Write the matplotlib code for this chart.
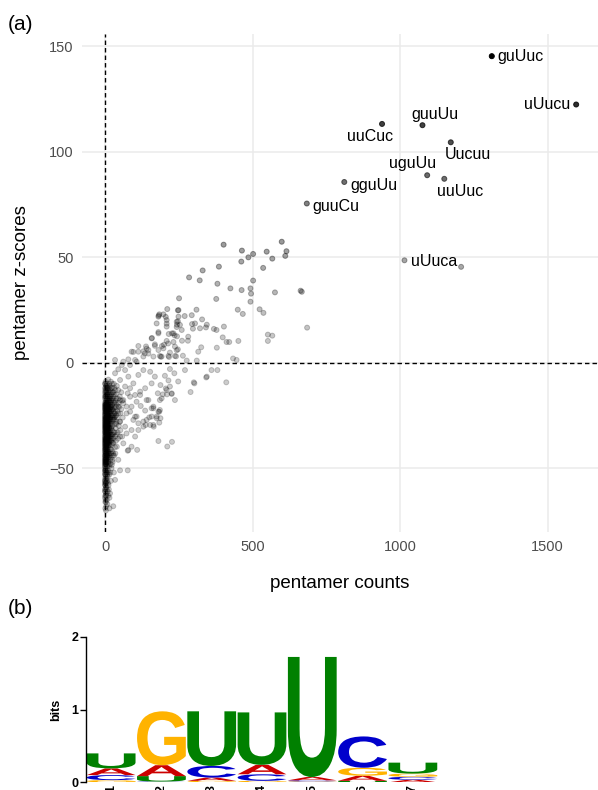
import numpy as np
import matplotlib
matplotlib.use("Agg")
import matplotlib.pyplot as plt
from matplotlib.textpath import TextPath
from matplotlib.patches import PathPatch
from matplotlib.font_manager import FontProperties
from matplotlib.transforms import Affine2D

plt.rcParams['font.family'] = ['Liberation Sans', 'DejaVu Sans']

# ---------------- data: panel (a) ----------------
label_names = ["guUuc", "uUucu", "guuUu", "uuCuc", "Uucuu", "uguUu", "uuUuc", "gguUu", "guuCu", "uUuca"]
label_x = [1311, 1597, 1076, 939, 1172, 1092, 1150, 811, 684, 1015]
label_y = [145.2, 122.3, 112.5, 113.1, 104.4, 88.8, 87.1, 85.6, 75.4, 48.5]

extra_pts = [(1207, 45.4)]

upper_pts = [
    (402, 55.9), (464, 53.1), (502, 51.5), (486, 49.9), (462, 47.9), (548, 52.6), (599, 57.3), (615, 52.8),
    (611, 50.6), (567, 49.3), (536, 44.9), (386, 45.5), (331, 43.7), (285, 40.4), (321, 39), (502, 38.9),
    (381, 37.4), (425, 35.2), (463, 34.4), (493, 35.2), (495, 32.7), (576, 33.3), (663, 34.1), (251, 30.5),
    (377, 30.2), (493, 28.9), (211, 25.4), (247, 24.8), (310, 25.1), (450, 25.1), (524, 25.3), (537, 23.6),
    (467, 23.1), (182, 22.3), (184, 22.9), (206, 21.7), (270, 22.1), (247, 19.6), (329, 20.5), (209, 18.5),
    (295, 18.3), (345, 18), (342, 16.7), (298, 16.1), (243, 16.9), (244, 18), (369, 16), (403, 17.1),
    (216, 13.6), (227, 13.9), (236, 12.9), (244, 12.5), (181, 14.5), (159, 11.7), (399, 12), (412, 9.8),
    (421, 9.8), (452, 10.3), (552, 13.3), (567, 12.8), (552, 10.3), (685, 16.6), (113, 7.9), (139, 7.7),
    (169, 8), (200, 8.5), (193, 7.9), (247, 6.3), (261, 10.4), (281, 10.4), (326, 7.3), (316, 5.2),
    (379, 7.1), (96, 5.1), (130, 5.4), (147, 4.3), (189, 2.8), (217, 2.7), (241, 3), (434, 2), (446, 1.3),
    (243, 5.9), (311, 1), (277, 1), (264, 3.3), (220, 4.8), (186, 3.2), (169, 8.7), (209, 10.3), (232, 9.8),
    (181, 21.8), (198, 22.9), (209, 20.2), (249, 21.8), (243, 19.4), (249, 24.9), (294, 22.5), (175, 18.6),
    (209, 17.1), (232, 13.9), (254, 17.9), (305, 18.6), (322, 16.3), (378, 15.5), (260, 15.5), (181, 13.9),
    (214, 9.1), (158, 11.5), (141, 6.7), (113, 5.2), (130, 2.9), (102, 1.3), (90, 5.2), (135, 4.4),
    (147, 6), (164, 2.9), (192, 2.9), (215, 3.2), (237, 3.2), (34, 1.3), (62, 0.5), (79, 1.6), (107, 0.5),
    (181, 6), (198, 6.8), (237, 7.6), (282, 12.3), (667, 33.6),
]

fan_pts = [
    (85, -1.1), (381, -3.5), (345, -6.6), (248, -8.9), (301, -9.3), (343, -7), (361, -3.5), (411, -9.3),
    (290, -13.9), (271, -3.5), (235, -5), (220, -3), (203, -6.2), (215, -8.4), (303, -9.8),
    (188, -10.6), (206, -12.2), (226, -14.5), (237, -17.7), (179, -14.5), (192, -16.9), (147, -17.7),
    (164, -21.6), (181, -23.2), (188, -26.3), (165, -30.3), (138, -29.5), (150, -25.9), (136, -22.7),
    (121, -20.5), (107, -18.5), (102, -15.3), (119, -13.7), (136, -12.1), (158, -9.8), (169, -6.6),
    (153, -4.3), (130, -3.5), (113, -5.8), (96, -9.8), (85, -12.1), (79, -6.6), (68, -3.5), (57, -1.1),
    (45, -3.1), (34, -5), (51, -8.2), (68, -11.3), (77, -14.5), (62, -17.7), (45, -20.8), (90, -20.8),
    (73, -24), (102, -25.6), (113, -28.7), (90, -31.9), (68, -30.3), (51, -27.9), (34, -25.6), (23, -22.4),
    (141, -27.1), (158, -25.5), (175, -26.3), (184, -23.2), (153, -29.5), (130, -30.3), (107, -25.5),
    (96, -27.1), (85, -23.2), (73, -20.8), (62, -19.2), (51, -17.7), (85, -16.1), (119, -15.3),
    (141, -17.7), (164, -20.8), (186, -17.7), (209, -12.9), (220, -11.3), (211, -39.7), (181, -37.1),
    (227, -37.5), (79, -41.4), (90, -39.8), (62, -38.2), (51, -35), (73, -33.5), (102, -35), (113, -31.9),
    (40, -39.8), (28, -42.9), (45, -46), (23, -48.4), (34, -55.5), (17, -61.9), (51, -51), (77, -51),
    (164, -29.5), (184, -28.4), (175, -25.5), (186, -22.4), (158, -21.6), (226, -14.8), (210, -15),
    (196, -15), (77, -41.7), (109, -41.3), (130, -27.9),
]

core_pts = [
    (2, -9), (6, -10), (11, -8), (15, -11), (20, -9), (25, -12), (30, -10), (4, -13), (9, -14), (13, -12),
    (18, -14), (22, -15), (28, -14), (35, -13), (40, -11), (1, -15), (7, -12), (16, -16), (3, -11), (24, -10),
    (0, -16), (2, -18), (4, -17), (6, -19), (8, -16), (10, -18), (12, -20), (14, -17), (17, -19), (19, -21),
    (21, -18), (23, -20), (26, -17), (29, -19), (32, -21), (36, -18), (40, -20), (44, -17), (1, -21), (3, -23),
    (5, -22), (7, -24), (9, -21), (11, -23), (13, -25), (15, -22), (18, -24), (20, -23), (24, -25), (27, -22),
    (31, -24), (35, -23), (38, -25), (2, -20), (4, -24), (6, -21), (8, -23), (10, -25), (12, -22), (16, -20),
    (0, -19), (0, -23), (1, -25), (5, -18), (9, -19), (14, -23), (22, -21), (28, -25), (33, -19), (42, -23),
    (48, -21), (52, -24), (3, -16), (7, -17), (11, -16), (0, -17), (0, -21), (1, -24), (2, -22), (3, -19),
    (6, -25), (13, -18), (17, -22), (25, -20),
    (0, -26), (1, -28), (2, -27), (3, -29), (4, -26), (5, -30), (6, -28), (7, -27), (8, -31), (9, -29),
    (10, -26), (11, -32), (12, -30), (13, -28), (14, -33), (15, -27), (16, -31), (18, -29), (20, -34), (22, -28),
    (24, -32), (26, -30), (28, -27), (30, -33), (33, -29), (36, -31), (39, -28), (43, -33), (47, -30), (0, -30),
    (0, -33), (1, -31), (2, -34), (3, -32), (4, -35), (5, -33), (6, -31), (7, -34), (8, -27), (9, -33),
    (10, -35), (12, -34), (14, -29), (17, -35), (19, -26), (21, -31), (23, -35), (25, -27), (27, -34), (31, -26),
    (35, -35), (40, -34), (0, -27), (0, -29), (1, -33), (2, -30), (3, -26), (4, -31), (5, -28), (6, -34),
    (8, -29), (11, -28), (13, -31), (16, -26), (0, -35), (1, -26), (2, -29), (4, -33), (7, -30), (9, -26),
    (0, -36), (1, -38), (2, -37), (3, -40), (4, -36), (5, -39), (6, -42), (7, -37), (8, -41), (9, -38),
    (10, -43), (11, -36), (12, -40), (14, -38), (15, -44), (17, -41), (19, -37), (21, -43), (23, -39), (25, -42),
    (28, -38), (31, -44), (34, -40), (0, -40), (0, -42), (0, -44), (1, -41), (2, -43), (3, -45), (4, -42),
    (5, -44), (6, -38), (7, -45), (9, -44), (12, -43), (13, -37), (16, -39), (20, -45), (24, -36), (27, -44),
    (1, -36), (2, -39), (3, -37), (4, -39), (5, -36), (8, -36), (10, -39), (0, -38), (1, -44), (6, -40),
    (0, -46), (1, -48), (2, -47), (3, -50), (4, -46), (5, -52), (6, -49), (8, -47), (10, -51), (12, -48),
    (15, -53), (18, -46), (22, -50), (0, -50), (0, -53), (1, -51), (2, -54), (3, -47), (4, -55), (6, -46),
    (9, -54), (14, -49), (26, -47), (30, -52), (0, -48), (1, -46),
    (0, -56), (1, -58), (2, -60), (3, -57), (4, -62), (5, -59), (7, -56), (9, -61), (12, -58), (15, -64),
    (0, -61), (0, -64), (1, -66), (2, -63), (4, -68), (6, -65), (8, -67), (11, -63), (13, -60), (0, -58),
    (3, -70), (1, -69), (28, -68), (15, -69), (20, -56),
]

core_pts_dense = [
    (1, -10), (3, -12), (5, -14), (8, -11), (10, -13), (12, -15), (14, -10), (17, -13), (19, -16), (21, -12),
    (23, -17), (26, -14), (29, -16), (32, -12), (37, -15), (45, -13), (50, -16), (55, -14), (0, -12), (0, -14),
    (2, -16), (4, -19), (6, -15), (9, -17), (11, -19), (13, -14), (15, -18), (18, -17), (20, -19), (27, -18),
    (31, -15), (39, -17), (46, -19), (58, -18), (0, -10), (1, -13), (3, -14), (5, -11), (7, -15), (9, -12),
    (0, -20), (0, -22), (0, -24), (0, -25), (0, -28), (1, -20), (1, -22), (1, -27), (1, -29), (2, -21),
    (2, -23), (2, -26), (2, -28), (3, -20), (3, -22), (3, -24), (3, -27), (4, -20), (4, -21), (4, -23),
    (4, -28), (5, -20), (5, -24), (5, -26), (5, -29), (6, -20), (6, -23), (6, -26), (6, -29), (7, -21),
    (7, -22), (7, -25), (7, -28), (8, -20), (8, -24), (8, -26), (9, -22), (9, -25), (9, -28), (10, -21),
    (10, -24), (10, -29), (11, -20), (11, -25), (12, -24), (12, -27), (13, -21), (14, -26), (15, -24), (16, -23),
    (16, -28), (18, -21), (19, -27), (21, -25), (22, -29), (24, -22), (26, -26), (29, -23), (32, -27), (37, -21),
    (41, -26), (45, -24), (50, -28), (55, -22), (60, -26), (34, -24), (38, -29),
    (0, -31), (0, -32), (0, -34), (0, -37), (0, -39), (1, -30), (1, -32), (1, -35), (1, -37), (1, -39),
    (2, -31), (2, -33), (2, -36), (2, -38), (3, -30), (3, -31), (3, -34), (3, -36), (3, -38), (4, -30),
    (4, -32), (4, -34), (4, -37), (5, -31), (5, -32), (5, -35), (5, -37), (6, -30), (6, -33), (6, -36),
    (6, -39), (7, -31), (7, -33), (7, -36), (7, -39), (8, -30), (8, -33), (8, -35), (8, -38), (9, -31),
    (9, -35), (9, -37), (10, -30), (10, -33), (10, -37), (11, -34), (11, -38), (12, -32), (12, -36), (13, -34),
    (13, -39), (14, -31), (14, -35), (15, -33), (15, -37), (17, -32), (18, -36), (19, -34), (20, -31), (22, -37),
    (24, -34), (26, -38), (29, -36), (33, -33), (37, -37), (44, -36), (52, -32), (58, -35),
    (0, -41), (0, -43), (0, -45), (0, -47), (0, -49), (1, -40), (1, -42), (1, -45), (1, -47), (1, -49),
    (2, -41), (2, -44), (2, -46), (2, -48), (3, -41), (3, -43), (3, -46), (3, -48), (4, -40), (4, -43),
    (4, -45), (4, -48), (5, -41), (5, -43), (5, -47), (6, -44), (6, -47), (7, -41), (7, -43), (8, -44),
    (8, -49), (9, -42), (10, -45), (11, -42), (11, -47), (13, -45), (16, -43), (18, -48), (21, -41), (25, -46),
    (35, -43),
    (0, -51), (0, -52), (0, -55), (0, -57), (0, -60), (1, -53), (1, -56), (1, -61), (2, -51), (2, -57),
    (3, -53), (3, -59), (4, -51), (4, -57), (5, -55), (6, -52), (6, -60), (8, -53), (10, -57), (11, -52),
    (18, -52), (2, -65), (5, -63), (1, -63), (3, -66),
]

x_ticks = [0, 500, 1000, 1500]
y_ticks = [-50, 0, 50, 100, 150]

# ---------------- data: panel (b) logo ----------------
positions = [1, 2, 3, 4, 5, 6, 7]
bits_A = [0.092, 0.150, 0.045, 0.130, 0.045, 0.070, 0.035]
bits_C = [0.069, 0.010, 0.160, 0.090, 0.015, 0.430, 0.040]
bits_G = [0.030, 0.740, 0.020, 0.020, 0.012, 0.110, 0.045]
bits_U = [0.206, 0.075, 0.750, 0.720, 1.650, 0.020, 0.150]
logo_colors = {"A": "#CC0000", "C": "#0000CC", "G": "#FFB300", "U": "#008000"}

# ---------------- figure ----------------
W, H = 598, 790
fig = plt.figure(figsize=(W / 100, H / 100), dpi=100)

def fx(px):
    return px / W

def fy(py):
    return 1 - py / H

ax = fig.add_axes([fx(82), fy(532), fx(598) - fx(82), fy(34) - fy(532)])
ax.set_xlim(-78, 1671)
ax.set_ylim(-80.2, 155.7)
for s in ax.spines.values():
    s.set_visible(False)
ax.set_xticks(x_ticks)
ax.set_yticks(y_ticks)
ax.grid(True, color="#EBEBEB", linewidth=1.1, zorder=0)
ax.set_axisbelow(True)
ax.tick_params(length=0, labelsize=10.5, labelcolor="#4D4D4D", pad=6)

ax.axvline(0, color="black", linestyle=(0, (3.2, 2.2)), linewidth=1.0, zorder=1.5)
ax.axhline(0, color="black", linestyle=(0, (3.2, 2.2)), linewidth=1.0, zorder=1.5)

all_pts = core_pts + core_pts_dense + fan_pts + upper_pts + extra_pts
xs = np.array([p[0] for p in all_pts] + label_x, dtype=float)
ys = np.array([p[1] for p in all_pts] + label_y, dtype=float)
alpha = 0.2 + 0.8 * (np.clip(ys, 0, None) / 145.0) ** 1.5
alpha = np.clip(alpha, 0, 1)
cols = np.zeros((len(xs), 4))
cols[:, 3] = alpha
ax.scatter(xs, ys, s=13, facecolors=cols, edgecolors=cols, linewidths=0.7, zorder=2)

offsets = {
    "guUuc": ((4.3, 0), "left"),
    "uUucu": ((-4.3, 0), "right"),
    "guuUu": ((9.3, 7.7), "center"),
    "uuCuc": ((-8.3, -8.9), "center"),
    "Uucuu": ((12.0, -8.9), "center"),
    "uguUu": ((-10.8, 8.2), "center"),
    "uuUuc": ((11.3, -8.9), "center"),
    "gguUu": ((4.6, -2.4), "left"),
    "guuCu": ((4.3, -1.9), "left"),
    "uUuca": ((4.8, -0.7), "left"),
}
for name, lx, ly in zip(label_names, label_x, label_y):
    off, ha = offsets[name]
    ax.annotate(name, (lx, ly), xytext=off, textcoords="offset points",
                ha=ha, va="center", fontsize=11.5, color="black", zorder=3)

ax.set_xlabel("pentamer counts", fontsize=13.5, color="black")
ax.xaxis.set_label_coords(0.5, -0.086)
ax.set_ylabel("pentamer z-scores", fontsize=13.5, color="black")
ax.yaxis.set_label_coords((30 - 82) / 516, 0.5)

fig.text(fx(8), fy(25), "(a)", fontsize=15, ha="left", va="center")
fig.text(fx(8), fy(609), "(b)", fontsize=15, ha="left", va="center")

# ---------------- logo ----------------
lax = fig.add_axes([fx(86), fy(782.3), fx(438) - fx(86), fy(636.7) - fy(782.3)])
lax.set_xlim(0.5, 7.5)
lax.set_ylim(0, 2)
for side in ["top", "right", "bottom"]:
    lax.spines[side].set_visible(False)
lax.spines["left"].set_linewidth(1.0)
lax.set_yticks([0, 1, 2])
lax.set_yticklabels(["0", "1", "2"], fontweight="bold", fontsize=9)
lax.tick_params(axis="y", length=4, width=1.0, pad=1.5)
lax.set_xticks(positions)
lax.set_xticklabels([str(p) for p in positions], rotation=90, fontweight="bold", fontsize=9)
lax.tick_params(axis="x", length=0, pad=2)
lax.set_ylabel("bits", fontweight="bold", fontsize=9)
lax.yaxis.set_label_coords((61.7 - 86) / 352, 0.5)
lax.patch.set_alpha(0)

fp = FontProperties(family="Liberation Sans", weight="bold")
width = 0.97
for i, pos in enumerate(positions):
    stack = [("A", bits_A[i]), ("C", bits_C[i]), ("G", bits_G[i]), ("U", bits_U[i])]
    stack.sort(key=lambda t: t[1])
    bottom = 0.0
    for letter, h in stack:
        if h > 0.004:
            tp = TextPath((0, 0), letter, size=1, prop=fp)
            bb = tp.get_extents()
            tr = (Affine2D().translate(-bb.x0, -bb.y0)
                  .scale(width / bb.width, h / bb.height)
                  .translate(pos - width / 2, bottom))
            path = tr.transform_path(tp)
            lax.add_patch(PathPatch(path, facecolor=logo_colors[letter], edgecolor="none", lw=0))
        bottom += h

fig.savefig("out.png", dpi=100)
